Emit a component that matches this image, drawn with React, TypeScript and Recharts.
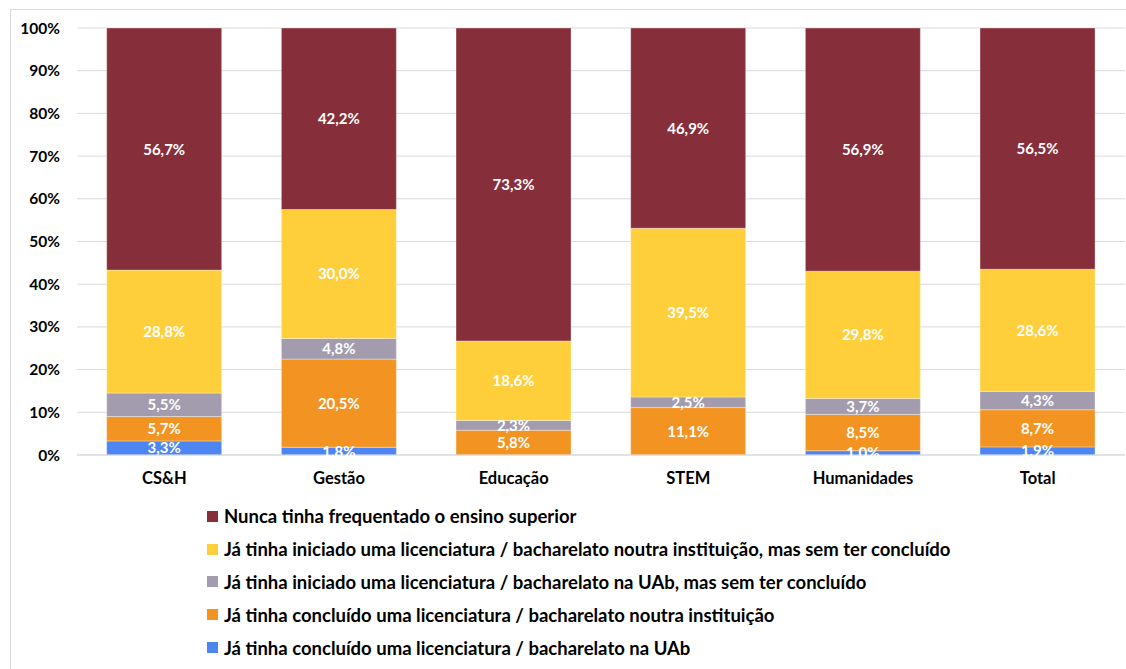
import { BarChart, Bar, XAxis, YAxis, CartesianGrid, LabelList } from 'recharts'

const categories = ['CS&H', 'Gestão', 'Educação', 'STEM', 'Humanidades', 'Total']
const concluidoUAb = [3.3, 1.8, 0, 0, 1.0, 1.9]
const concluidoOutra = [5.7, 20.5, 5.8, 11.1, 8.5, 8.7]
const iniciadoUAb = [5.5, 4.8, 2.3, 2.5, 3.7, 4.3]
const iniciadoOutra = [28.8, 30.0, 18.6, 39.5, 29.8, 28.6]
const nunca = [56.7, 42.2, 73.3, 46.9, 56.9, 56.5]
const yTicks = [0, 0.1, 0.2, 0.3, 0.4, 0.5, 0.6, 0.7, 0.8, 0.9, 1]

const series = [
  { key: 'concluidoUAb', name: 'Já tinha concluído uma licenciatura / bacharelato na UAb', color: '#4d86f3', values: concluidoUAb },
  { key: 'concluidoOutra', name: 'Já tinha concluído uma licenciatura / bacharelato noutra instituição', color: '#f39322', values: concluidoOutra },
  { key: 'iniciadoUAb', name: 'Já tinha iniciado uma licenciatura / bacharelato na UAb, mas sem ter concluído', color: '#a29cae', values: iniciadoUAb },
  { key: 'iniciadoOutra', name: 'Já tinha iniciado uma licenciatura / bacharelato noutra instituição, mas sem ter concluído', color: '#ffcf3b', values: iniciadoOutra },
  { key: 'nunca', name: 'Nunca tinha frequentado o ensino superior', color: '#872e3b', values: nunca },
]

const data = categories.map((cat, i) => {
  const row: Record<string, string | number> = { cat }
  series.forEach(s => { row[s.key] = s.values[i] })
  return row
})

const FONT = 'Lato, "DejaVu Sans", sans-serif'

// eslint-disable-next-line @typescript-eslint/no-explicit-any
const SegmentLabel = (props: any) => {
  const { x, y, width, height, value } = props
  if (!value) return null
  return (
    <text
      x={x + width / 2}
      y={y + height / 2}
      dy={5.5}
      textAnchor="middle"
      fill="#fff"
      fontSize={15}
      fontWeight={700}
      fontFamily={FONT}
    >
      {value.toFixed(1).replace('.', ',')}%
    </text>
  )
}

export default function App() {
  return (
    <div style={{ position: 'absolute', left: 0, top: 0, width: 1126, height: 669, background: '#fff' }}>
      <div style={{ position: 'absolute', left: 10, top: 9, width: 1120, height: 670, border: '1px solid #d9d9d9' }} />
      <div style={{ position: 'absolute', left: 0, top: 0 }}>
        <BarChart
          width={1126}
          height={669}
          data={data}
          stackOffset="expand"
          barCategoryGap="17%"
          margin={{ top: 28, right: 1, bottom: 184, left: 0 }}
        >
          <CartesianGrid vertical={false} stroke="#d9d9d9" />
          <XAxis
            dataKey="cat"
            axisLine={{ stroke: '#d9d9d9' }}
            tickLine={false}
            tickMargin={11}
            tick={{ fill: '#000', fontSize: 16.5, fontWeight: 700, fontFamily: FONT }}
          />
          <YAxis
            width={77}
            domain={[0, 1]}
            ticks={yTicks}
            interval={0}
            axisLine={false}
            tickLine={false}
            tickMargin={11}
            tickFormatter={(v: number) => `${Math.round(v * 100)}%`}
            tick={{ fill: '#000', fontSize: 15.5, fontWeight: 700, fontFamily: FONT }}
          />
          {series.map(s => (
            <Bar
              key={s.key}
              dataKey={s.key}
              name={s.name}
              stackId="a"
              fill={s.color}
              stroke="#ffffff"
              strokeOpacity={0.35}
              strokeWidth={1}
              isAnimationActive={false}
            >
              <LabelList dataKey={s.key} content={<SegmentLabel />} />
            </Bar>
          ))}
        </BarChart>
      </div>
      <div style={{ position: 'absolute', left: 207, top: 500, fontFamily: FONT, fontWeight: 700, fontSize: 18.5, color: '#000' }}>
        {[...series].reverse().map(s => (
          <div key={s.key} style={{ display: 'flex', alignItems: 'center', height: 32.8, whiteSpace: 'nowrap' }}>
            <span style={{ width: 11, height: 11, background: s.color, display: 'inline-block', marginRight: 6 }} />
            <span>{s.name}</span>
          </div>
        ))}
      </div>
    </div>
  )
}
